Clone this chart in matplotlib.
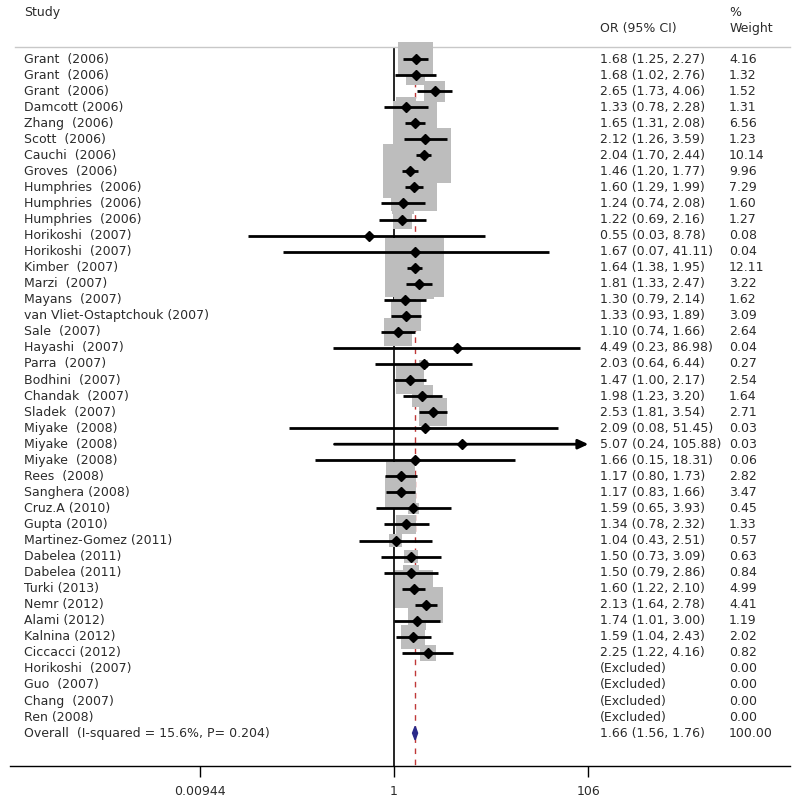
import numpy as np
import matplotlib
matplotlib.use("Agg")
import matplotlib.pyplot as plt
from matplotlib.patches import Polygon
from matplotlib.transforms import blended_transform_factory

# study rows (None = excluded)
studies = [
    "Grant  (2006)", "Grant  (2006)", "Grant  (2006)", "Damcott (2006)",
    "Zhang  (2006)", "Scott  (2006)", "Cauchi  (2006)", "Groves  (2006)",
    "Humphries  (2006)", "Humphries  (2006)", "Humphries  (2006)",
    "Horikoshi  (2007)", "Horikoshi  (2007)", "Kimber  (2007)", "Marzi  (2007)",
    "Mayans  (2007)", "van Vliet-Ostaptchouk (2007)", "Sale  (2007)",
    "Hayashi  (2007)", "Parra  (2007)", "Bodhini  (2007)", "Chandak  (2007)",
    "Sladek  (2007)", "Miyake  (2008)", "Miyake  (2008)", "Miyake  (2008)",
    "Rees  (2008)", "Sanghera (2008)", "Cruz.A (2010)", "Gupta (2010)",
    "Martinez-Gomez (2011)", "Dabelea (2011)", "Dabelea (2011)", "Turki (2013)",
    "Nemr (2012)", "Alami (2012)", "Kalnina (2012)", "Ciccacci (2012)",
    "Horikoshi  (2007)", "Guo  (2007)", "Chang  (2007)", "Ren (2008)",
]
or_vals = [1.68, 1.68, 2.65, 1.33, 1.65, 2.12, 2.04, 1.46, 1.60, 1.24, 1.22,
           0.55, 1.67, 1.64, 1.81, 1.30, 1.33, 1.10, 4.49, 2.03, 1.47, 1.98,
           2.53, 2.09, 5.07, 1.66, 1.17, 1.17, 1.59, 1.34, 1.04, 1.50, 1.50,
           1.60, 2.13, 1.74, 1.59, 2.25, None, None, None, None]
ci_lo = [1.25, 1.02, 1.73, 0.78, 1.31, 1.26, 1.70, 1.20, 1.29, 0.74, 0.69,
         0.03, 0.07, 1.38, 1.33, 0.79, 0.93, 0.74, 0.23, 0.64, 1.00, 1.23,
         1.81, 0.08, 0.24, 0.15, 0.80, 0.83, 0.65, 0.78, 0.43, 0.73, 0.79,
         1.22, 1.64, 1.01, 1.04, 1.22, None, None, None, None]
ci_hi = [2.27, 2.76, 4.06, 2.28, 2.08, 3.59, 2.44, 1.77, 1.99, 2.08, 2.16,
         8.78, 41.11, 1.95, 2.47, 2.14, 1.89, 1.66, 86.98, 6.44, 2.17, 3.20,
         3.54, 51.45, 105.88, 18.31, 1.73, 1.66, 3.93, 2.32, 2.51, 3.09, 2.86,
         2.10, 2.78, 3.00, 2.43, 4.16, None, None, None, None]
weights = [4.16, 1.32, 1.52, 1.31, 6.56, 1.23, 10.14, 9.96, 7.29, 1.60, 1.27,
           0.08, 0.04, 12.11, 3.22, 1.62, 3.09, 2.64, 0.04, 0.27, 2.54, 1.64,
           2.71, 0.03, 0.03, 0.06, 2.82, 3.47, 0.45, 1.33, 0.57, 0.63, 0.84,
           4.99, 4.41, 1.19, 2.02, 0.82, 0.00, 0.00, 0.00, 0.00]

overall_label = "Overall  (I-squared = 15.6%, P= 0.204)"
overall_or, overall_lo, overall_hi = 1.66, 1.56, 1.76
tick_vals = [0.00944, 1, 106]
tick_labels = ["0.00944", "1", "106"]

plt.rcParams['font.family'] = ['DejaVu Sans']
FS = 9
TXT = "#2b2b2b"

fig = plt.figure(figsize=(8, 8.08), dpi=100)
ax = fig.add_axes([10 / 800, 42 / 808, 780 / 800, 766 / 808])
ax.set_xscale("log")
ax.set_xlim(10 ** -4.0, 10 ** 4.125)
ax.set_ylim(45.05, -2.68)

n = len(studies)
rows = np.arange(1, n + 1)
overall_row = n + 1

tx = blended_transform_factory(ax.transAxes, ax.transData)

# reference lines
ax.plot([1, 1], [0.31, 45.05], color="black", lw=1.2, zorder=1)
ax.plot([overall_or, overall_or], [0.31, 45.05], color="#c03838", lw=1.0,
        dashes=(4, 4), zorder=1)

# header + separator
ax.plot([0.006, 1.0], [0.25, 0.25], color="#c8c8c8", lw=1.0, transform=tx,
        clip_on=False)
ax.text(0.018, -1.93, "Study", transform=tx, fontsize=FS, va="center", color=TXT)
ax.text(0.756, -0.93, "OR (95% CI)", transform=tx, fontsize=FS, va="center", color=TXT)
ax.text(0.922, -1.93, "%", transform=tx, fontsize=FS, va="center", color=TXT)
ax.text(0.922, -0.93, "Weight", transform=tx, fontsize=FS, va="center", color=TXT)

for r, name, o, lo, hi, w in zip(rows, studies, or_vals, ci_lo, ci_hi, weights):
    ax.text(0.018, r, name, transform=tx, fontsize=FS, va="center", color=TXT)
    ax.text(0.922, r, f"{w:.2f}", transform=tx, fontsize=FS, va="center", color=TXT)
    if o is None:
        ax.text(0.756, r, "(Excluded)", transform=tx, fontsize=FS, va="center", color=TXT)
        continue
    ax.text(0.756, r, f"{o:.2f} ({lo:.2f}, {hi:.2f})", transform=tx,
            fontsize=FS, va="center", color=TXT)
    ax.scatter([o], [r], marker="s", s=151.5 * w, color="#bdbdbd",
               edgecolors="none", zorder=2)
    if hi > 100:
        ax.annotate("", xy=(hi, r), xytext=(lo, r), zorder=3,
                    arrowprops=dict(arrowstyle="-|>,head_length=0.6,head_width=0.28",
                                    color="black", lw=2, shrinkA=0, shrinkB=0))
    else:
        ax.plot([lo, hi], [r, r], color="black", lw=2, solid_capstyle="butt", zorder=3)
    ax.plot([o], [r], marker="D", ms=5, color="black", zorder=4)

# overall
ax.text(0.018, overall_row, overall_label, transform=tx, fontsize=FS,
        va="center", color=TXT)
ax.text(0.756, overall_row, f"{overall_or:.2f} ({overall_lo:.2f}, {overall_hi:.2f})",
        transform=tx, fontsize=FS, va="center", color=TXT)
ax.text(0.922, overall_row, "100.00", transform=tx, fontsize=FS, va="center", color=TXT)
ax.add_patch(Polygon([(overall_lo, overall_row), (overall_or, overall_row - 0.42),
                      (overall_hi, overall_row), (overall_or, overall_row + 0.42)],
                     closed=True, facecolor="#2a2a8a", edgecolor="#2a2a8a", zorder=4))

# axes styling
for s in ["top", "left", "right"]:
    ax.spines[s].set_visible(False)
ax.spines["bottom"].set_linewidth(1.0)
ax.set_yticks([])
ax.set_xticks(tick_vals)
ax.set_xticklabels(tick_labels)
ax.xaxis.set_minor_locator(matplotlib.ticker.NullLocator())
ax.tick_params(axis="x", direction="out", length=8, width=1, pad=6,
               labelsize=FS, labelcolor=TXT)

fig.savefig("out.png", dpi=100, facecolor="white")
